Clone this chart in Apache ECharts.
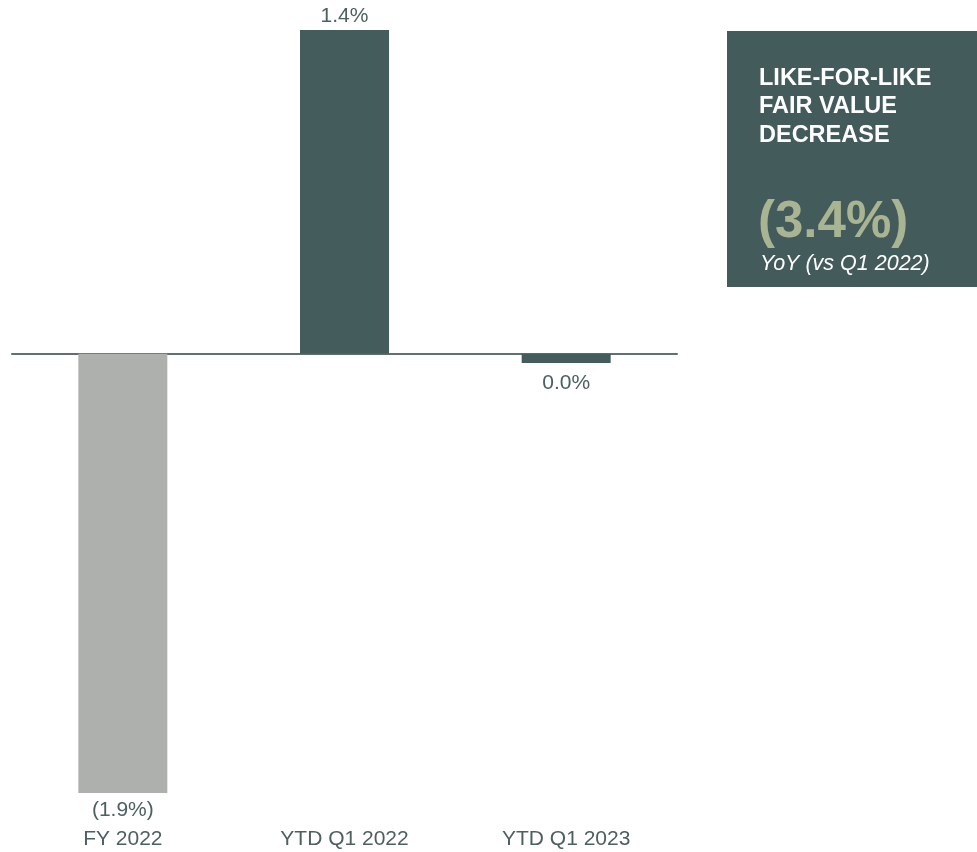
<!DOCTYPE html>
<html>
<head>
<meta charset="utf-8">
<script src="https://cdn.jsdelivr.net/npm/echarts@6/dist/echarts.min.js"></script>
<style>
  html, body { margin: 0; padding: 0; background: #fff; }
  #chart-panel { width: 977px; height: 852px; }
</style>
</head>
<body>
<div id="chart-panel"></div>
<script>
// categories and values (% change)
var categories = ['FY 2022', 'YTD Q1 2022', 'YTD Q1 2023'];
var values = [-1.9, 1.4, -0.04];
var barColors = ['#adb0ac', '#445c5c', '#445c5c'];

// callout box text
var boxTitle = ['LIKE-FOR-LIKE', 'FAIR VALUE', 'DECREASE'];
var boxValue = '(3.4%)';
var boxNote = 'YoY (vs Q1 2022)';

var chart = echarts.init(document.getElementById('chart-panel'));

var textColor = '#4d5f5f';
var font = 'Liberation Sans, Arial, sans-serif';

function fmt(v) {
    var s = Math.abs(v).toFixed(1);
    if (v < 0 && s !== '0.0') return '(' + s + '%)';
    return s + '%';
}

// build bar items: label below for negatives, above for positives
var barData = [];
for (var i = 0; i < values.length; i++) {
    var neg = values[i] < 0;
    var dist = 3;
    if (neg) dist = Math.abs(values[i]) < 0.1 ? 10 : 7;
    barData.push({
        value: values[i],
        itemStyle: { color: barColors[i] },
        label: {
            position: neg ? 'bottom' : 'top',
            distance: dist
        }
    });
}

var option = {
    backgroundColor: '#ffffff',
    animation: false,
    grid: { left: 12, width: 665, top: 30, bottom: 59 },
    xAxis: [{
        // bottom axis: category labels only
        type: 'category',
        data: categories,
        position: 'bottom',
        axisLine: { show: false, onZero: false },
        axisTick: { show: false },
        axisLabel: {
            margin: 36,
            color: textColor,
            fontFamily: font,
            fontSize: 21
        }
    }, {
        // zero line
        type: 'category',
        data: categories,
        axisLine: { show: true, onZero: true, lineStyle: { color: '#5e7170', width: 2 } },
        axisTick: { show: false },
        axisLabel: { show: false }
    }],
    yAxis: {
        type: 'value',
        min: -1.9,
        max: 1.4,
        show: false,
        splitLine: { show: false }
    },
    series: [{
        type: 'bar',
        xAxisIndex: 0,
        barWidth: 89,
        data: barData,
        label: {
            show: true,
            color: textColor,
            fontFamily: font,
            fontSize: 21,
            formatter: function (p) { return fmt(p.value); }
        },
        z: 1
    }],
    graphic: [{
        type: 'rect',
        left: 727,
        top: 31,
        shape: { width: 250, height: 256 },
        style: { fill: '#445b5b' }
    }, {
        type: 'text',
        left: 759,
        top: 64,
        style: {
            text: boxTitle.join('\n'),
            fill: '#ffffff',
            font: 'bold 23.5px ' + font,
            lineHeight: 28.5
        }
    }, {
        type: 'text',
        left: 758,
        top: 197,
        style: {
            text: boxValue,
            fill: '#a9b592',
            font: 'bold 51px ' + font
        }
    }, {
        type: 'text',
        left: 760,
        top: 253,
        style: {
            text: boxNote,
            fill: '#ffffff',
            font: 'italic 21.5px ' + font
        }
    }]
};

chart.setOption(option);
</script>
</body>
</html>
